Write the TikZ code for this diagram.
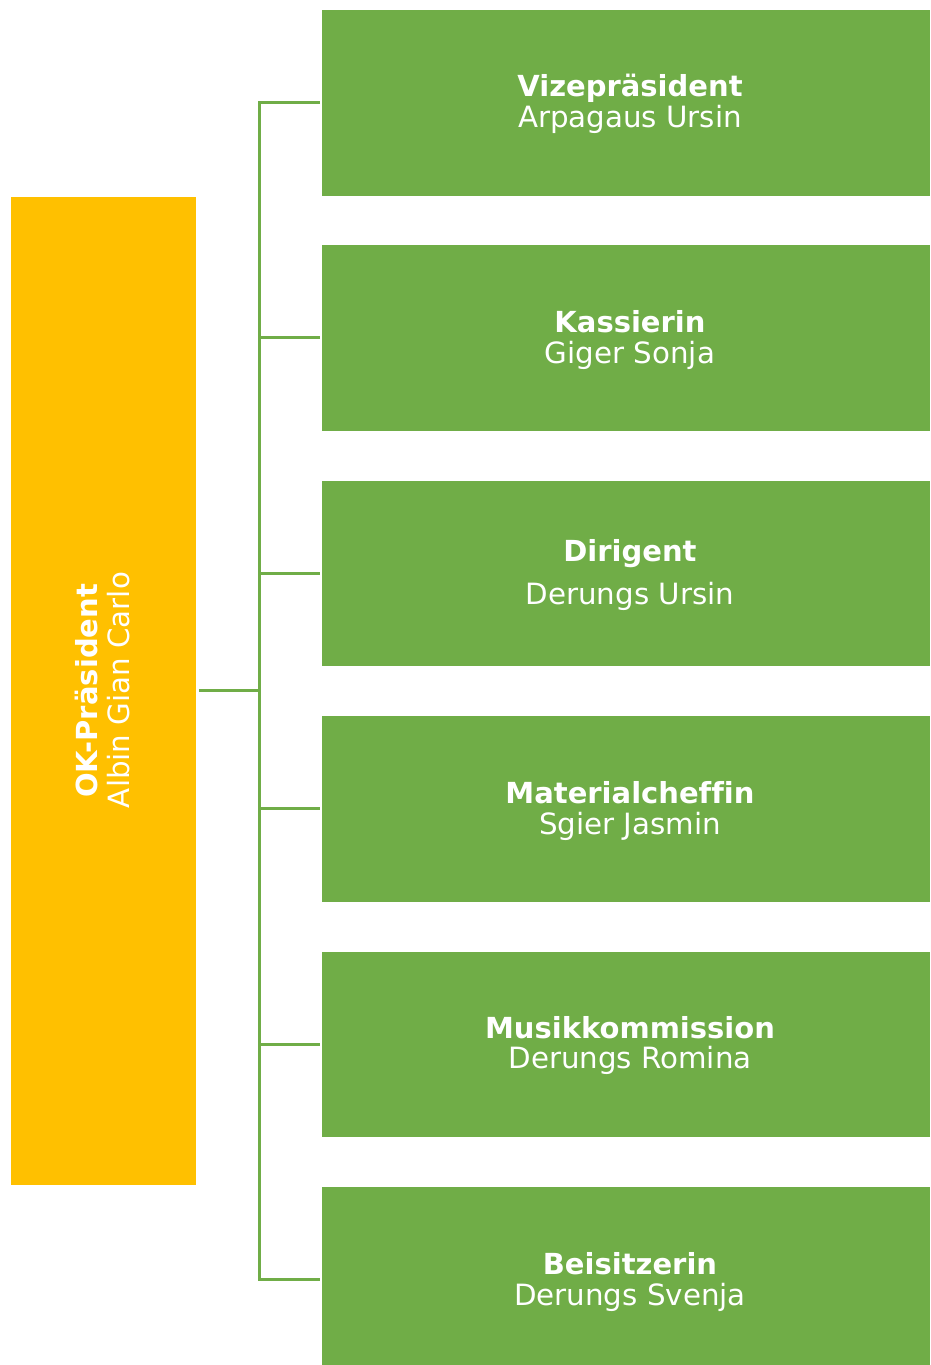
\documentclass[tikz,border=0pt]{standalone}
\usepackage{fontspec}
\setmainfont[Ligatures=NoCommon]{DejaVu Sans}
\definecolor{orgGreen}{HTML}{70AD47}
\definecolor{orgYellow}{HTML}{FFC000}
\begin{document}
\begin{tikzpicture}[x=1pt,y=-1pt,
  gbox/.style={fill=orgGreen, draw=none, minimum width=608, minimum height=185.5, anchor=north west, inner sep=0},
  ybox/.style={fill=orgYellow, draw=none, minimum width=185, minimum height=988, anchor=north west, inner sep=0},
  ttl/.style={text=white, font=\fontsize{29}{31}\selectfont\bfseries, anchor=base, inner sep=0},
  nm/.style={text=white, font=\fontsize{29.3}{31}\selectfont, anchor=base, inner sep=0},
  conn/.style={draw=orgGreen, line width=3pt},
  mainconn/.style={draw=orgGreen, line width=3.6pt}]
\useasboundingbox (0,0) rectangle (930,1365);
% boxes
\node[ybox] (p) at (11,197) {};
\node[gbox] (b1) at (322,10) {};
\node[gbox] (b2) at (322,245) {};
\node[gbox] (b3) at (322,480.5) {};
\node[gbox] (b4) at (322,716) {};
\node[gbox] (b5) at (322,951.5) {};
\node[gbox, minimum height=180] (b6) at (322,1187) {};
% texts
\node[ttl] (t1) at (630,96) {Vizepräsident};
\node[nm]  (n1) at (630,127) {Arpagaus Ursin};
\node[ttl] (t2) at (630,332) {Kassierin};
\node[nm]  (n2) at (630,363) {Giger Sonja};
\node[ttl] (t3) at (630,561) {Dirigent};
\node[nm]  (n3) at (630,604) {Derungs Ursin};
\node[ttl] (t4) at (630,803) {Materialcheffin};
\node[nm]  (n4) at (630,834) {Sgier Jasmin};
\node[ttl] (t5) at (630,1038) {Musikkommission};
\node[nm]  (n5) at (630,1068) {Derungs Romina};
\node[ttl] (t6) at (630,1274) {Beisitzerin};
\node[nm]  (n6) at (630,1305) {Derungs Svenja};
\node[ttl, rotate=90] (tp) at (97,691) {OK-Präsident};
\node[nm, rotate=90] (np) at (129,690) {Albin Gian Carlo};
% connectors
\coordinate (j) at (259.3,690.5);
\coordinate (top) at (259.3,102.3);
\coordinate (bot) at (259.3,1279);
\draw[mainconn] ([xshift=3pt]p.east |- j) -- (j);
\draw[conn] ([xshift=-2pt]b1.west |- top) -- (top) -- (bot) -- ([xshift=-2pt]b6.west |- bot);
\draw[conn] (b2.west -| top) -- ([xshift=-2pt]b2.west);
\draw[conn] (b3.west -| top) -- ([xshift=-2pt]b3.west);
\draw[conn] (b4.west -| top) -- ([xshift=-2pt]b4.west);
\draw[conn] (b5.west -| top) -- ([xshift=-2pt]b5.west);
\end{tikzpicture}
\end{document}
